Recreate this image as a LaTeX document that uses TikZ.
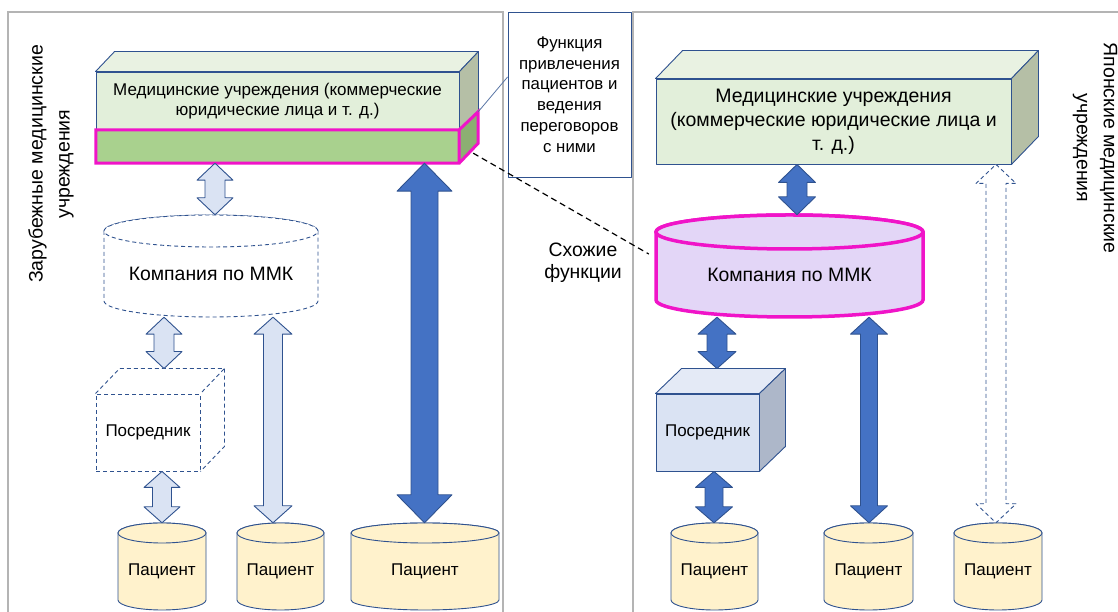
\documentclass[tikz,border=0pt]{standalone}
\usepackage{fontspec}
\setmainfont{Liberation Sans}
\usetikzlibrary{calc}
\definecolor{frm}{HTML}{B4B4B4}
\definecolor{bst}{HTML}{2F528F}
\definecolor{lblue}{HTML}{DAE3F3}
\definecolor{dblue}{HTML}{4472C4}
\definecolor{gfront}{HTML}{E2EFDA}
\definecolor{gtop}{HTML}{E9F2E2}
\definecolor{gside}{HTML}{B5BFA6}
\definecolor{bandc}{HTML}{A9D18E}
\definecolor{bandside}{HTML}{8CAF72}
\definecolor{mag}{RGB}{240,20,200}
\definecolor{lav}{HTML}{E3D6F7}
\definecolor{pat}{HTML}{FFF2CC}
\definecolor{cfront}{HTML}{DAE3F3}
\definecolor{ctop}{HTML}{E4EAF6}
\definecolor{cside}{HTML}{ADB7C9}
\newcommand{\mkcyl}[9]{%
  \path[#2] (#3-#5,#4+#6-#7) -- (#3-#5,#4-#6+#7) arc[start angle=180,end angle=360,x radius=#5,y radius=#7] -- (#3+#5,#4+#6-#7) arc[start angle=0,end angle=180,x radius=#5,y radius=#7] -- cycle;
  \path[#2] (#3,#4+#6-#7) ellipse[x radius=#5,y radius=#7];
  \node[inner sep=0pt,minimum width=2*#5,minimum height=2*#6] (#1) at (#3,#4) {};
  \node[#8] (#1t) at (#3,#4-#7/2) {#9};
}
\newcommand{\dblarr}[7]{%
  \draw[#1] let \p1=(#3), \p2=(#4) in
   (#2,\y1) -- (#2+#6,\y1-#7) -- (#2+#5,\y1-#7) -- (#2+#5,\y2+#7) -- (#2+#6,\y2+#7) -- (#2,\y2) -- (#2-#6,\y2+#7) -- (#2-#5,\y2+#7) -- (#2-#5,\y1-#7) -- (#2-#6,\y1-#7) -- cycle;}
\tikzset{
  frame/.style={draw=frm,line width=1.3pt},
  edge/.style={draw=bst,line width=0.9pt,line join=round},
  lightarr/.style={edge,fill=lblue},
  darkarr/.style={edge,fill=dblue},
  dasharr/.style={edge,fill=white,dash pattern=on 4pt off 3pt},
  txt/.style={text=black,align=center,inner sep=0pt},
  ftA/.style={txt,font=\fontsize{17}{20}\selectfont},
  ftB/.style={txt,font=\fontsize{19.5}{24}\selectfont},
  ftC/.style={txt,font=\fontsize{16.8}{20.8}\selectfont},
  ftP/.style={txt,font=\fontsize{17}{20}\selectfont},
  ftM/.style={txt,font=\fontsize{19.4}{22}\selectfont},
  ftS/.style={txt,font=\fontsize{19.5}{27}\selectfont},
  patcyl/.style={edge,fill=pat},
  dashcyl/.style={edge,fill=white,dash pattern=on 4pt off 3pt},
  magcyl/.style={draw=mag,line width=3.5pt,fill=lav},
}
\begin{document}
\begin{tikzpicture}[x=1pt,y=1pt]
\useasboundingbox (0,0) rectangle (1118,612);
% frames
\draw[frame] (8,-3) -- (8,600) -- (503,600) -- (503,-3);
\draw[frame] (633,-3) -- (633,600) -- (1125,600);
% callout box
\node[edge,fill=white,line width=0.9pt,minimum width=123,minimum height=165,inner sep=0pt,ftC] (CB) at (569.5,517.5) {Функция\\привлечения\\пациентов и\\ведения\\переговоров\\с ними};
% side labels
\node[ftS,rotate=90] (SL) at (51,448) {Зарубежные медицинские\\учреждения};
\node[ftS,rotate=-90] (SR) at (1095,464) {Японские медицинские\\учреждения};
% left top box
\node[edge,fill=gfront,minimum width=363,minimum height=58,inner sep=0pt,ftA] (LB) at (277.5,511) {Медицинские учреждения (коммерческие\\юридические лица и т. д.)};
\draw[edge,fill=gtop] (LB.north west) -- ++(19,20) -- ([shift={(19,20)}]LB.north east) -- (LB.north east) -- cycle;
\draw[edge,fill=gside] (LB.north east) -- ++(19,20) -- ([shift={(19,20)}]LB.south east) -- (LB.south east) -- cycle;
\node[fill=bandc,minimum width=363,minimum height=33,inner sep=0pt] (BD) at (277.5,465.5) {};
\fill[bandside] (BD.north east) -- ++(19,18) -- ([shift={(19,20)}]BD.south east) -- (BD.south east) -- cycle;
\draw[draw=mag,line width=3pt,line join=miter] (BD.north west) -- (BD.north east) -- ++(19,18) -- ([shift={(19,20)}]BD.south east) -- (BD.south east) -- (BD.south west) -- cycle (BD.north east) -- (BD.south east);
% callout line
\coordinate (cT) at ([shift={(19,18)}]BD.north east);
\draw[draw=bst!80,line width=0.8pt] (cT) -- ([yshift=17.5pt]CB.west);
% right top box
\node[edge,fill=gfront,minimum width=355,minimum height=85,inner sep=0pt,ftB] (RB) at (833.5,490.5) {Медицинские учреждения\\(коммерческие юридические лица и\\т. д.)};
\draw[edge,fill=gtop] (RB.north west) -- ++(27,28) -- ([shift={(27,28)}]RB.north east) -- (RB.north east) -- cycle;
\draw[edge,fill=gside] (RB.north east) -- ++(27,28) -- ([shift={(27,28)}]RB.south east) -- (RB.south east) -- cycle;
% company cylinders
\mkcyl{CL}{dashcyl}{211}{346}{107}{51}{16}{ftM}{Компания по ММК}
\mkcyl{MC}{magcyl}{789.5}{346}{133.5}{51}{17}{ftM}{Компания по ММК}
% intermediaries
\node[dashcyl,minimum width=104,minimum height=77,inner sep=0pt,ftP] (IL) at (148,179.5) {Посредник};
\draw[dashcyl] (IL.north west) -- ++(24,25) -- ([shift={(24,25)}]IL.north east) -- (IL.north east);
\draw[dashcyl] ([shift={(24,25)}]IL.north east) -- ([shift={(24,25)}]IL.south east) -- (IL.south east);
\node[edge,fill=cfront,minimum width=103,minimum height=77,inner sep=0pt,ftP] (IR) at (707.5,179.5) {Посредник};
\draw[edge,fill=ctop] (IR.north west) -- ++(26,25) -- ([shift={(26,25)}]IR.north east) -- (IR.north east) -- cycle;
\draw[edge,fill=cside] (IR.north east) -- ++(26,25) -- ([shift={(26,25)}]IR.south east) -- (IR.south east) -- cycle;
% patients
\mkcyl{P1}{patcyl}{162}{45.5}{44}{43.5}{10}{ftP}{Пациент}
\mkcyl{P2}{patcyl}{280.5}{45.5}{43.5}{43.5}{10}{ftP}{Пациент}
\mkcyl{P3}{patcyl}{425}{45.5}{74}{43.5}{10}{ftP}{Пациент}
\mkcyl{P4}{patcyl}{714.5}{45.5}{43.5}{43.5}{10}{ftP}{Пациент}
\mkcyl{P5}{patcyl}{868.5}{45.5}{44.5}{43.5}{10}{ftP}{Пациент}
\mkcyl{P6}{patcyl}{998}{45.5}{44}{43.5}{10}{ftP}{Пациент}
% arrows left
\dblarr{lightarr}{215}{BD.south}{CL.north}{10}{18}{17}
\dblarr{lightarr}{164}{CL.south}{[yshift=25pt]IL.north}{10}{18}{17}
\dblarr{lightarr}{162}{IL.south}{P1.north}{9.5}{18}{16}
\dblarr{lightarr}{273}{CL.south}{P2.north}{9.5}{19}{17}
\dblarr{darkarr}{424.5}{BD.south}{P3.north}{13.5}{27.5}{28}
% arrows right
\dblarr{darkarr}{797}{RB.south}{MC.north}{10}{18.5}{18}
\dblarr{darkarr}{717}{MC.south}{[yshift=25pt]IR.north}{10}{19}{17}
\dblarr{darkarr}{714}{IR.south}{P4.north}{9}{18.5}{16}
\dblarr{darkarr}{869}{MC.south}{P5.north}{8.5}{18.5}{17}
\dblarr{dasharr}{996}{RB.south}{P6.north}{10}{20}{19}
% similar functions
\coordinate (dS) at ([shift={(14,10)}]BD.south east);
\coordinate (dE) at ([shift={(-7,12)}]MC.west);
\draw[black,line width=1.2pt,dash pattern=on 6pt off 4pt] (dS) -- (dE);
\node[ftM] (SF) at (583,349) {Схожие\\функции};
\end{tikzpicture}
\end{document}
